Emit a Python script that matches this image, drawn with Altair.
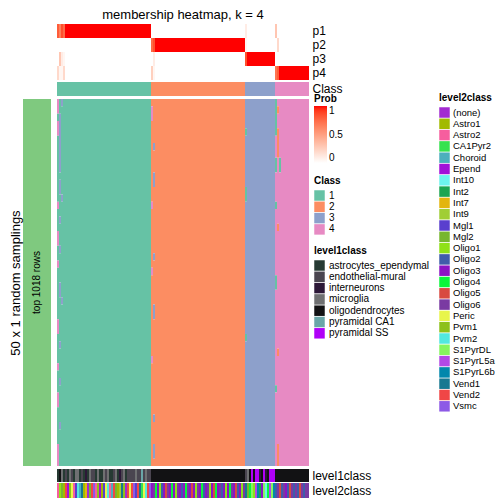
import altair as alt
import pandas as pd

FONT = "Liberation Sans"

# ---------------- data ----------------
# class of each sample column (sorted), 126 columns
col_class = [1] * 47 + [2] * 47 + [3] * 15 + [4] * 17

# membership probabilities per column
p1 = [0.8, 0.65, 0.85, 0.75] + [1.0] * 43 + [0.0] * 47 + [0.1] + [0.0] * 14 + [0.3] + [0.0] * 16
p2 = [0.0] * 47 + [0.75, 0.85] + [1.0] * 45 + [0.05] + [0.0] * 14 + [0.0, 0.2] + [0.0] * 15
p3 = [0.0, 0.3, 0.1, 0.05] + [0.0] * 43 + [0.0, 0.1] + [0.0] * 45 + [0.85] + [1.0] * 14 + [0.0] * 17
p4 = [0.2, 0.05, 0.05, 0.2] + [0.0] * 43 + [0.25, 0.05] + [0.0] * 45 + [0.0] + [0.0] * 14 + [0.7, 0.8] + [1.0] * 15

# level1class code per column
lvl1_codes = ("AOMAEAMEAM" "MAEAIAMEEA" "MAAMEMAAEM" "AIEMAEEEEM" "EECEMEE"
              + "O" * 47
              + "EMOSOSSIOSIOSSS"
              + "O" * 17)
lvl1_names = {"A": "astrocytes_ependymal", "E": "endothelial-mural", "I": "interneurons",
              "M": "microglia", "O": "oligodendrocytes", "C": "pyramidal CA1", "S": "pyramidal SS"}

# level2class code per column
lvl2_codes = (
    "A2 O1 M2 A1 V2 Ep P1 Pe A2 M1 P2 Ch V1 A1 I7 no M2 V2 Vs A2 "
    "P1 Ep A1 M1 Pe P2 A2 Ch V2 M2 A1 I9 V1 P1 no V2 Pe V2 Vs M1 "
    "V2 V1 CA Pe P2 V2 Vs "
    "O3 O6 O4 O3 O1 O2 O3 O5 O6 O3 O4 O3 O1 O6 O3 O2 O3 O4 O6 O3 "
    "O5 O3 O1 O6 O3 O4 O2 O3 O6 O1 O3 O5 O4 O3 O6 O2 O3 O1 O3 O4 "
    "O6 O3 O5 O2 O3 O1 O6 "
    "V1 M2 O4 SD O1 S5 S6 I2 O3 SD I10 O4 S5 SD S6 "
    "O2 O6 O5 O2 O6 O3 O2 O5 O6 O2 O6 O2 O5 O6 O2 O6 O6"
).split()
lvl2_names = {"no": "(none)", "A1": "Astro1", "A2": "Astro2", "CA": "CA1Pyr2", "Ch": "Choroid",
              "Ep": "Epend", "I10": "Int10", "I2": "Int2", "I7": "Int7", "I9": "Int9",
              "M1": "Mgl1", "M2": "Mgl2", "O1": "Oligo1", "O2": "Oligo2", "O3": "Oligo3",
              "O4": "Oligo4", "O5": "Oligo5", "O6": "Oligo6", "Pe": "Peric", "P1": "Pvm1",
              "P2": "Pvm2", "SD": "S1PyrDL", "S5": "S1PyrL5a", "S6": "S1PyrL6b",
              "V1": "Vend1", "V2": "Vend2", "Vs": "Vsmc"}

# cells of the 50 x 126 sampling heatmap that differ from the column's class: (row, col, class)
exceptions = [
    (0, 0, 4), (1, 0, 4), (3, 0, 4), (4, 0, 4), (14, 0, 4), (18, 0, 4), (19, 0, 4), (22, 0, 4),
    (30, 0, 4), (31, 0, 4), (36, 0, 4), (40, 0, 4), (41, 0, 4), (47, 0, 4), (48, 0, 4), (49, 0, 4),
    (2, 1, 3), (3, 1, 3), (4, 1, 3), (5, 1, 3), (6, 1, 3), (7, 1, 3), (8, 1, 3), (9, 1, 3),
    (11, 1, 3), (12, 1, 3), (16, 1, 3), (20, 1, 3), (25, 1, 3), (26, 1, 3), (33, 1, 3), (38, 1, 3), (44, 1, 3),
    (0, 2, 3), (13, 2, 3), (27, 2, 3),
    (1, 47, 4), (2, 47, 4), (14, 47, 4), (23, 47, 4), (35, 47, 4),
    (6, 48, 3), (10, 48, 3), (11, 48, 3), (21, 48, 3), (28, 48, 3), (29, 48, 3), (43, 48, 3), (47, 48, 3), (48, 48, 3),
    (4, 94, 1), (12, 94, 1), (13, 94, 1), (32, 94, 1),
    (0, 109, 1), (1, 109, 1), (2, 109, 1), (3, 109, 1), (4, 109, 1), (8, 109, 1), (9, 109, 1),
    (14, 109, 1), (24, 109, 1), (25, 109, 1), (39, 109, 1),
    (1, 110, 2), (4, 110, 2), (5, 110, 2), (6, 110, 2), (7, 110, 2), (17, 110, 2), (34, 110, 2),
    (47, 110, 2), (48, 110, 2), (49, 110, 2),
    (8, 111, 1), (9, 111, 1),
]
n_rows = 50

class_levels = ["1", "2", "3", "4"]
class_colors = ["#66C2A5", "#FC8D62", "#8DA0CB", "#E78AC3"]
lvl1_levels = ["astrocytes_ependymal", "endothelial-mural", "interneurons", "microglia",
               "oligodendrocytes", "pyramidal CA1", "pyramidal SS"]
lvl1_colors = ["#263A33", "#4A4550", "#2C1838", "#6F7072", "#121214", "#6AA6A8", "#B000F8"]
lvl2_levels = ["(none)", "Astro1", "Astro2", "CA1Pyr2", "Choroid", "Epend", "Int10", "Int2",
               "Int7", "Int9", "Mgl1", "Mgl2", "Oligo1", "Oligo2", "Oligo3", "Oligo4", "Oligo5",
               "Oligo6", "Peric", "Pvm1", "Pvm2", "S1PyrDL", "S1PyrL5a", "S1PyrL6b", "Vend1",
               "Vend2", "Vsmc"]
lvl2_colors = ["#A22AD0", "#A2BA00", "#F65E9E", "#36E24F", "#4CAFBD", "#A20FD8", "#6CF4EE",
               "#1BA552", "#E3B50E", "#A0CE35", "#5A3FCE", "#77B62F", "#8FE117", "#405DAA",
               "#8C14C4", "#09F73A", "#D84A40", "#7A3AA2", "#E8F54B", "#8DC11A", "#52E8E0",
               "#86F55F", "#B249E6", "#0287AC", "#177891", "#F04646", "#8D59E6"]

# ---------------- tables ----------------
ncol = len(col_class)
cols = list(range(ncol))

mem_rows = []
for name, vals in zip(["p1", "p2", "p3", "p4"], [p1, p2, p3, p4]):
    for c, v in zip(cols, vals):
        mem_rows.append({"col": c, "p": name, "prob": v})
df_mem = pd.DataFrame(mem_rows)

df_cls = pd.DataFrame({"col": cols, "cls": [str(k) for k in col_class], "name": "Class"})
df_l1 = pd.DataFrame({"col": cols, "v": [lvl1_names[k] for k in lvl1_codes], "name": "level1class"})
df_l2 = pd.DataFrame({"col": cols, "v": [lvl2_names[k] for k in lvl2_codes], "name": "level2class"})

grid = [[col_class[c] for c in cols] for r in range(n_rows)]
for r, c, k in exceptions:
    grid[r][c] = k
runs = []
for c in cols:
    start = 0
    for r in range(1, n_rows + 1):
        if r == n_rows or grid[r][c] != grid[start][c]:
            runs.append({"col": c, "r0": start, "r1": r, "cls": str(grid[start][c])})
            start = r
df_main = pd.DataFrame(runs)
df_grp = pd.DataFrame({"g": ["top 1018 rows"]})

# ---------------- chart ----------------
def xscale():
    return alt.Scale(domain=cols, range=[49, 301], paddingInner=0, paddingOuter=0)

def band(domain, rng):
    return alt.Scale(domain=domain, range=rng, paddingInner=0, paddingOuter=0)

def right_axis():
    return alt.Axis(orient="right", offset=-187, domain=False, ticks=False, labelPadding=3,
                    labelFontSize=12, title=None)

memb = alt.Chart(df_mem).mark_rect().encode(
    x=alt.X("col:O", scale=xscale(), axis=None),
    y=alt.Y("p:N", scale=band(["p1", "p2", "p3", "p4"], [0, 56]), axis=right_axis()),
    color=alt.Color("prob:Q",
                    scale=alt.Scale(domain=[0, 1], range=["#FFFFFF", "#FF0000"], interpolate="lab"),
                    legend=alt.Legend(title="Prob", orient="none", legendX=306, legendY=70,
                                      direction="vertical", gradientLength=57, gradientThickness=13,
                                      values=[0, 0.5, 1], format=".1~f", titlePadding=2)),
)

classbar = alt.Chart(df_cls).mark_rect().encode(
    x=alt.X("col:O", scale=xscale(), axis=None),
    y=alt.Y("name:N", scale=band(["Class"], [58, 72]), axis=right_axis()),
    color=alt.Color("cls:N", scale=alt.Scale(domain=class_levels, range=class_colors), legend=None),
)

main = alt.Chart(df_main).mark_rect().encode(
    x=alt.X("col:O", scale=xscale(), axis=None),
    y=alt.Y("r0:Q", scale=alt.Scale(domain=[0, n_rows], range=[75, 442], nice=False, zero=False), axis=None),
    y2="r1:Q",
    color=alt.Color("cls:N", scale=alt.Scale(domain=class_levels, range=class_colors),
                    legend=alt.Legend(title="Class", orient="none", legendX=306, legendY=152,
                                      direction="vertical")),
)

l1bar = alt.Chart(df_l1).mark_rect().encode(
    x=alt.X("col:O", scale=xscale(), axis=None),
    y=alt.Y("name:N", scale=band(["level1class"], [445, 458]), axis=right_axis()),
    color=alt.Color("v:N", scale=alt.Scale(domain=lvl1_levels, range=lvl1_colors),
                    legend=alt.Legend(title="level1class", orient="none", legendX=306, legendY=222,
                                      direction="vertical")),
)

l2bar = alt.Chart(df_l2).mark_rect().encode(
    x=alt.X("col:O", scale=xscale(), axis=None),
    y=alt.Y("name:N", scale=band(["level2class"], [459, 474]), axis=right_axis()),
    color=alt.Color("v:N", scale=alt.Scale(domain=lvl2_levels, range=lvl2_colors),
                    legend=alt.Legend(title="level2class", orient="none", legendX=431, legendY=69,
                                      direction="vertical", labelFontSize=9.5, labelOffset=3)),
)

green = alt.Chart(df_grp).mark_rect(color="#7FC97F").encode(
    x=alt.X("g:N", scale=band(["top 1018 rows"], [15, 43]), axis=None),
    y=alt.Y("g:N", scale=band(["top 1018 rows"], [75, 442]),
            axis=alt.Axis(orient="left", offset=-15, labels=False, ticks=False, domain=False,
                          title="50 x 1 random samplings", titleFontSize=13,
                          titleFontWeight="normal", titlePadding=1)),
)

gtext = alt.Chart(df_grp).mark_text(angle=270, fontSize=10, font=FONT, color="black").encode(
    x=alt.X("g:N", scale=band(["top 1018 rows"], [15, 43]), axis=None),
    y=alt.Y("g:N", scale=band(["top 1018 rows"], [75, 442]), axis=None),
    text="g:N",
)

chart = alt.layer(memb, classbar, main, l1bar, l2bar, green, gtext).resolve_scale(
    x="independent", y="independent", color="independent"
).properties(
    width=488, height=480,
    padding={"left": 0, "top": 16, "right": 0, "bottom": 0},
    autosize=alt.AutoSizeParams(type="none"),
    title=alt.Title("membership heatmap, k = 4", font=FONT, fontSize=13, fontWeight="normal",
                    anchor="middle", dx=-69, frame="group", offset=2, color="black"),
).configure_view(stroke=None).configure_axis(
    labelFont=FONT, titleFont=FONT, labelColor="black", titleColor="black", grid=False
).configure_legend(
    padding=0, titleFont=FONT, titleFontSize=10, titleFontWeight="bold", titleColor="black",
    labelFont=FONT, labelFontSize=10, labelColor="black", symbolType="square", symbolSize=110,
    symbolStrokeWidth=0, symbolOpacity=1, rowPadding=0.3, titlePadding=4, labelOffset=4,
    gradientStrokeWidth=0,
)

chart.save("out.html", embed_options={"renderer": "svg", "actions": False})
